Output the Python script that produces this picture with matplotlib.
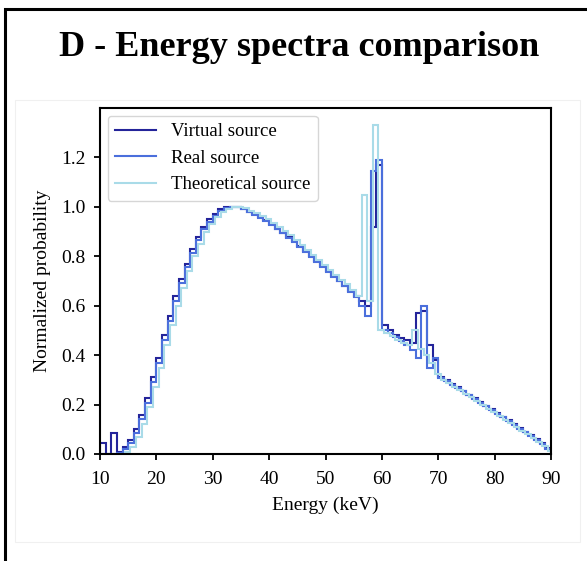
import numpy as np
import matplotlib
matplotlib.use("Agg")
import matplotlib.pyplot as plt
from matplotlib.patches import Rectangle

plt.rcParams['font.family'] = ['Liberation Serif', 'DejaVu Serif']

# Bin start energies (keV), 1 keV bins
energy_bins = list(range(10, 90))

virtual_source = [
    0.043, 0.0, 0.083, 0.010, 0.030, 0.057, 0.100, 0.158, 0.225, 0.310,  # 10-19
    0.390, 0.480, 0.560, 0.640, 0.710, 0.770, 0.830, 0.880, 0.920, 0.950,  # 20-29
    0.970, 0.990, 1.000, 1.000, 0.998, 0.990, 0.980, 0.970, 0.958, 0.945,  # 30-39
    0.930, 0.912, 0.895, 0.878, 0.860, 0.840, 0.820, 0.800, 0.780, 0.760,  # 40-49
    0.740, 0.720, 0.700, 0.680, 0.660, 0.640, 0.620, 0.600, 0.920, 1.170,  # 50-59
    0.520, 0.500, 0.482, 0.470, 0.460, 0.450, 0.570, 0.580, 0.440, 0.380,  # 60-69
    0.312, 0.298, 0.284, 0.270, 0.256, 0.240, 0.226, 0.211, 0.196, 0.181,  # 70-79
    0.166, 0.151, 0.136, 0.121, 0.106, 0.091, 0.076, 0.060, 0.044, 0.025,  # 80-89
]

real_source = [
    0.0, 0.0, 0.0, 0.005, 0.020, 0.045, 0.085, 0.140, 0.205, 0.290,  # 10-19
    0.370, 0.460, 0.540, 0.620, 0.690, 0.755, 0.815, 0.865, 0.910, 0.940,  # 20-29
    0.965, 0.985, 0.995, 1.000, 1.000, 0.990, 0.978, 0.968, 0.955, 0.942,  # 30-39
    0.928, 0.910, 0.893, 0.875, 0.857, 0.838, 0.818, 0.798, 0.778, 0.758,  # 40-49
    0.738, 0.718, 0.698, 0.678, 0.657, 0.636, 0.600, 0.560, 1.146, 1.190,  # 50-59
    0.500, 0.488, 0.472, 0.456, 0.440, 0.420, 0.390, 0.600, 0.350, 0.390,  # 60-69
    0.308, 0.295, 0.281, 0.267, 0.253, 0.238, 0.223, 0.208, 0.193, 0.178,  # 70-79
    0.163, 0.148, 0.133, 0.118, 0.103, 0.088, 0.073, 0.058, 0.042, 0.022,  # 80-89
]

# Theoretical spectrum bins start 0.4 keV later
theoretical_offset = 0.4
theoretical_source = [
    0.0, 0.0, 0.0, 0.0, 0.010, 0.030, 0.070, 0.120, 0.190, 0.270,  # 10-19
    0.350, 0.440, 0.520, 0.600, 0.670, 0.740, 0.800, 0.850, 0.900, 0.930,  # 20-29
    0.960, 0.980, 0.992, 1.000, 1.000, 0.995, 0.985, 0.975, 0.962, 0.950,  # 30-39
    0.935, 0.920, 0.902, 0.885, 0.866, 0.846, 0.826, 0.806, 0.786, 0.766,  # 40-49
    0.746, 0.726, 0.706, 0.686, 0.665, 0.640, 1.050, 0.620, 1.330, 0.500,  # 50-59
    0.490, 0.476, 0.462, 0.450, 0.440, 0.500, 0.425, 0.400, 0.370, 0.325,  # 60-69
    0.300, 0.286, 0.272, 0.258, 0.244, 0.229, 0.214, 0.199, 0.184, 0.169,  # 70-79
    0.154, 0.139, 0.124, 0.109, 0.094, 0.079, 0.064, 0.049, 0.033, 0.012,  # 80-89
]

labels = ["Virtual source", "Real source", "Theoretical source"]
colors = ["#24249a", "#4b6fdc", "#a9dbe8"]

x_ticks = [10, 20, 30, 40, 50, 60, 70, 80, 90]
y_ticks = [0.0, 0.2, 0.4, 0.6, 0.8, 1.0, 1.2]

fig = plt.figure(figsize=(5.87, 5.61), dpi=100)

# outer frame (left & top visible)
fig.patches.append(Rectangle((5 / 587, -0.1), 1.2, (561 - 9) / 561 + 0.1,
                             transform=fig.transFigure, fill=False,
                             edgecolor="black", linewidth=2.2))
# faint inner image boundary
fig.patches.append(Rectangle((15 / 587, (561 - 542) / 561), 565 / 587, 442 / 561,
                             transform=fig.transFigure, fill=False,
                             edgecolor="#f0f0f0", linewidth=0.8))

fig.text(0.51, (561 - 47) / 561, "D - Energy spectra comparison",
         ha="center", va="center", fontsize=26, fontweight="bold")

ax = fig.add_axes([100 / 587, (561 - 454) / 561, 451 / 587, 346 / 561])

edges = np.array(energy_bins + [energy_bins[-1] + 1], dtype=float)
ax.stairs(virtual_source, edges, color=colors[0], linewidth=1.5, label=labels[0])
ax.stairs(real_source, edges, color=colors[1], linewidth=1.5, label=labels[1])
ax.stairs(theoretical_source, edges + theoretical_offset, color=colors[2],
          linewidth=1.5, label=labels[2])

ax.set_xlim(10, 90)
ax.set_ylim(0, 1.40)
ax.set_xticks(x_ticks)
ax.set_yticks(y_ticks)
ax.set_yticklabels([f"{v:.1f}" for v in y_ticks])
ax.tick_params(labelsize=14, length=4.5, width=1.3, direction="out", pad=6)
ax.tick_params(axis="x", pad=8)
for s in ax.spines.values():
    s.set_linewidth(1.5)
ax.set_xlabel("Energy (keV)", fontsize=14, labelpad=6)
ax.set_ylabel("Normalized probability", fontsize=14, labelpad=7)

leg = ax.legend(loc="upper left", fontsize=13.5, frameon=True, fancybox=True,
                handlelength=2.2, borderaxespad=0.4)
leg.get_frame().set_edgecolor("#cccccc")

fig.savefig("out.png", dpi=100)
